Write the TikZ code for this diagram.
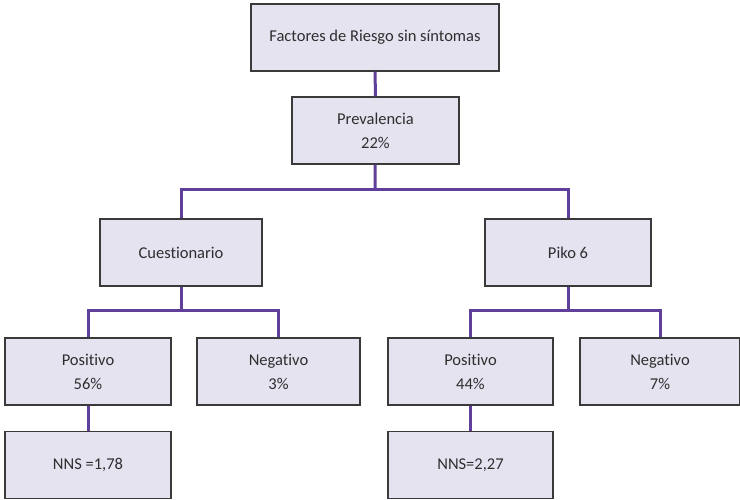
\documentclass[tikz,border=0pt]{standalone}
\usepackage{fontspec}
\setmainfont[Ligatures=NoCommon]{Carlito}
\definecolor{BoxFill}{HTML}{E6E3F0}
\definecolor{BoxLine}{HTML}{3A3A3A}
\definecolor{BoxText}{HTML}{2E2E2E}
\definecolor{Link}{HTML}{603F9A}
\usetikzlibrary{positioning,calc}
\tikzset{tree layout/.style={%
    y=-1pt,
    x=1pt,
    every node/.style={%
        draw=BoxLine, fill=BoxFill, text=BoxText, line width=1.1pt,
        align=center, font=\fontsize{16.5}{24}\selectfont,
        inner sep=0pt, minimum height=67pt
    },
    every path/.style={%
        Link, line width=3pt
    }
}}

\begin{document}
\begin{tikzpicture}[tree layout]
    \useasboundingbox (0,0) rectangle (740,500);
    % levels one and two
    \node (riesgo) at (375,37.5) [minimum width=248pt] {Factores de Riesgo sin síntomas};
    \node (prev) at (375.5,130.5) [minimum width=167pt] {Prevalencia\\22\%};
    \node (cuest) at (181,252.5) [minimum width=162pt] {Cuestionario};
    \node (piko) at (568,252.5) [minimum width=166pt] {Piko 6};
    % results
    \node (cpos) at (88,371.5) [minimum width=166pt] {Positivo\\56\%};
    \node (cneg) at (278.5,371.5) [minimum width=163pt] {Negativo\\3\%};
    \node (ppos) at (470.5,371.5) [minimum width=165pt] {Positivo\\44\%};
    \node (pneg) at (660,371.5) [minimum width=160pt] {Negativo\\7\%};
    \node (cnns) at (88,465) [minimum width=166pt] {NNS =1,78};
    \node (pnns) at (470.5,465) [minimum width=165pt] {NNS=2,27};

    \coordinate (j1) at (375,190);
    \coordinate (j2) at (181,310);
    \coordinate (j3) at (568,310);

    \draw (riesgo) -- (prev);
    \draw (prev) -- (j1);
    \draw (j1) -| (cuest);
    \draw (j1) -| (piko);
    \draw (cuest) -- (j2);
    \draw (j2) -| (cpos);
    \draw (j2) -| (cneg);
    \draw (piko) -- (j3);
    \draw (j3) -| (ppos);
    \draw (j3) -| (pneg);
    \draw (cpos) -- (cnns);
    \draw (ppos) -- (pnns);
\end{tikzpicture}
\end{document}
